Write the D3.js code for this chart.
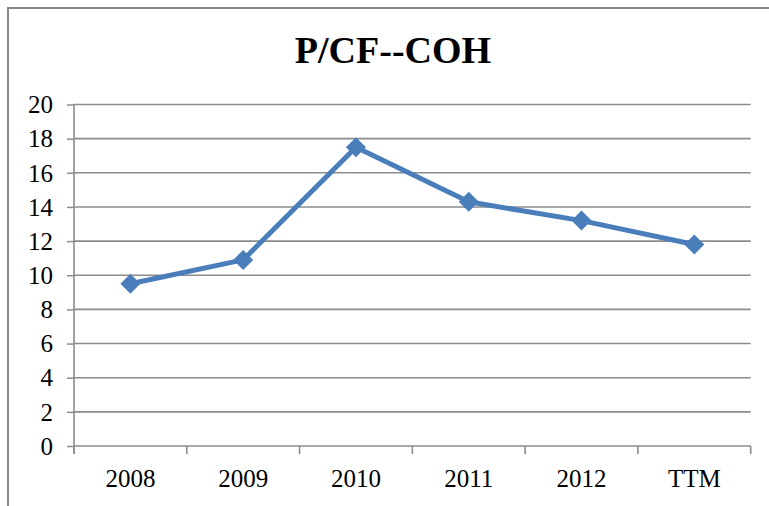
<!DOCTYPE html>
<html>
<head>
<meta charset="utf-8">
<script src="https://cdn.jsdelivr.net/npm/d3@7/dist/d3.min.js"></script>
<style>
  html, body { margin: 0; padding: 0; background: #fff; }
  svg { display: block; }
  svg text { font-family: "Liberation Serif", "Times New Roman", serif; }
</style>
</head>
<body>
<svg id="chart" width="769" height="506"></svg>
<script>
const categories = ["2008", "2009", "2010", "2011", "2012", "TTM"];
const values = [9.5, 10.9, 17.5, 14.3, 13.2, 11.8];
const yTicks = [0, 2, 4, 6, 8, 10, 12, 14, 16, 18, 20];
const title = "P/CF--COH";

const W = 769, H = 506;
const svg = d3.select("#chart");
const gridColor = "#8c8c8c";
const fontFam = '"Liberation Serif", "Times New Roman", serif';

// outer frame
svg.append("rect")
  .attr("x", 8).attr("y", 8)
  .attr("width", W + 20).attr("height", H + 20)
  .attr("fill", "none").attr("stroke", "#868686").attr("stroke-width", 2);

svg.append("text")
  .attr("x", 393).attr("y", 63)
  .attr("text-anchor", "middle")
  .style("font-family", fontFam)
  .attr("font-weight", "bold")
  .attr("font-size", 38)
  .attr("fill", "#000")
  .text(title);

const x = d3.scaleBand().domain(categories).range([74, 750.7]);
const y = d3.scaleLinear().domain([0, 20]).range([446, 104.5]);

// y ticks + labels
const yAxis = d3.axisLeft(y).tickValues(yTicks).tickSize(7).tickPadding(14).tickFormat(d3.format("d"));
const gy = svg.append("g").attr("transform", "translate(74,0)").call(yAxis);
gy.attr("font-family", null);
gy.select(".domain").remove();
gy.selectAll(".tick line").attr("stroke", gridColor).attr("stroke-width", 1.5);
gy.selectAll(".tick text")
  .style("font-family", fontFam).attr("font-size", 25).attr("fill", "#000")
  .attr("dy", "0.33em");

// gridlines
svg.append("g").selectAll("line.grid")
  .data(yTicks).join("line")
  .attr("x1", 74).attr("x2", 750.7)
  .attr("y1", d => y(d)).attr("y2", d => y(d))
  .attr("stroke", gridColor).attr("stroke-width", 1.6);

// y axis line
svg.append("line")
  .attr("x1", 74).attr("x2", 74)
  .attr("y1", y(20)).attr("y2", 454)
  .attr("stroke", gridColor).attr("stroke-width", 1.6);

// x axis ticks at category boundaries
const bounds = categories.map(c => x(c)).concat([x.range()[1]]);
svg.append("g").selectAll("line.xt")
  .data(bounds).join("line")
  .attr("x1", d => d).attr("x2", d => d)
  .attr("y1", 446).attr("y2", 454)
  .attr("stroke", gridColor).attr("stroke-width", 1.6);

svg.append("g").selectAll("text.xl")
  .data(categories).join("text")
  .attr("x", d => x(d) + x.bandwidth() / 2)
  .attr("y", 487)
  .attr("text-anchor", "middle")
  .style("font-family", fontFam).attr("font-size", 25).attr("fill", "#000")
  .text(d => d);

const lineColor = "#4a7ebb";
const pts = categories.map((c, i) => [x(c) + x.bandwidth() / 2, y(values[i])]);

svg.append("path")
  .datum(pts)
  .attr("d", d3.line())
  .attr("fill", "none")
  .attr("stroke", lineColor)
  .attr("stroke-width", 5)
  .attr("stroke-linejoin", "round");

svg.append("g").selectAll("path.m")
  .data(pts).join("path")
  .attr("d", d3.symbol().type(d3.symbolSquare).size(200))
  .attr("transform", d => `translate(${d[0]},${d[1]}) rotate(45)`)
  .attr("fill", lineColor);
</script>
</body>
</html>
